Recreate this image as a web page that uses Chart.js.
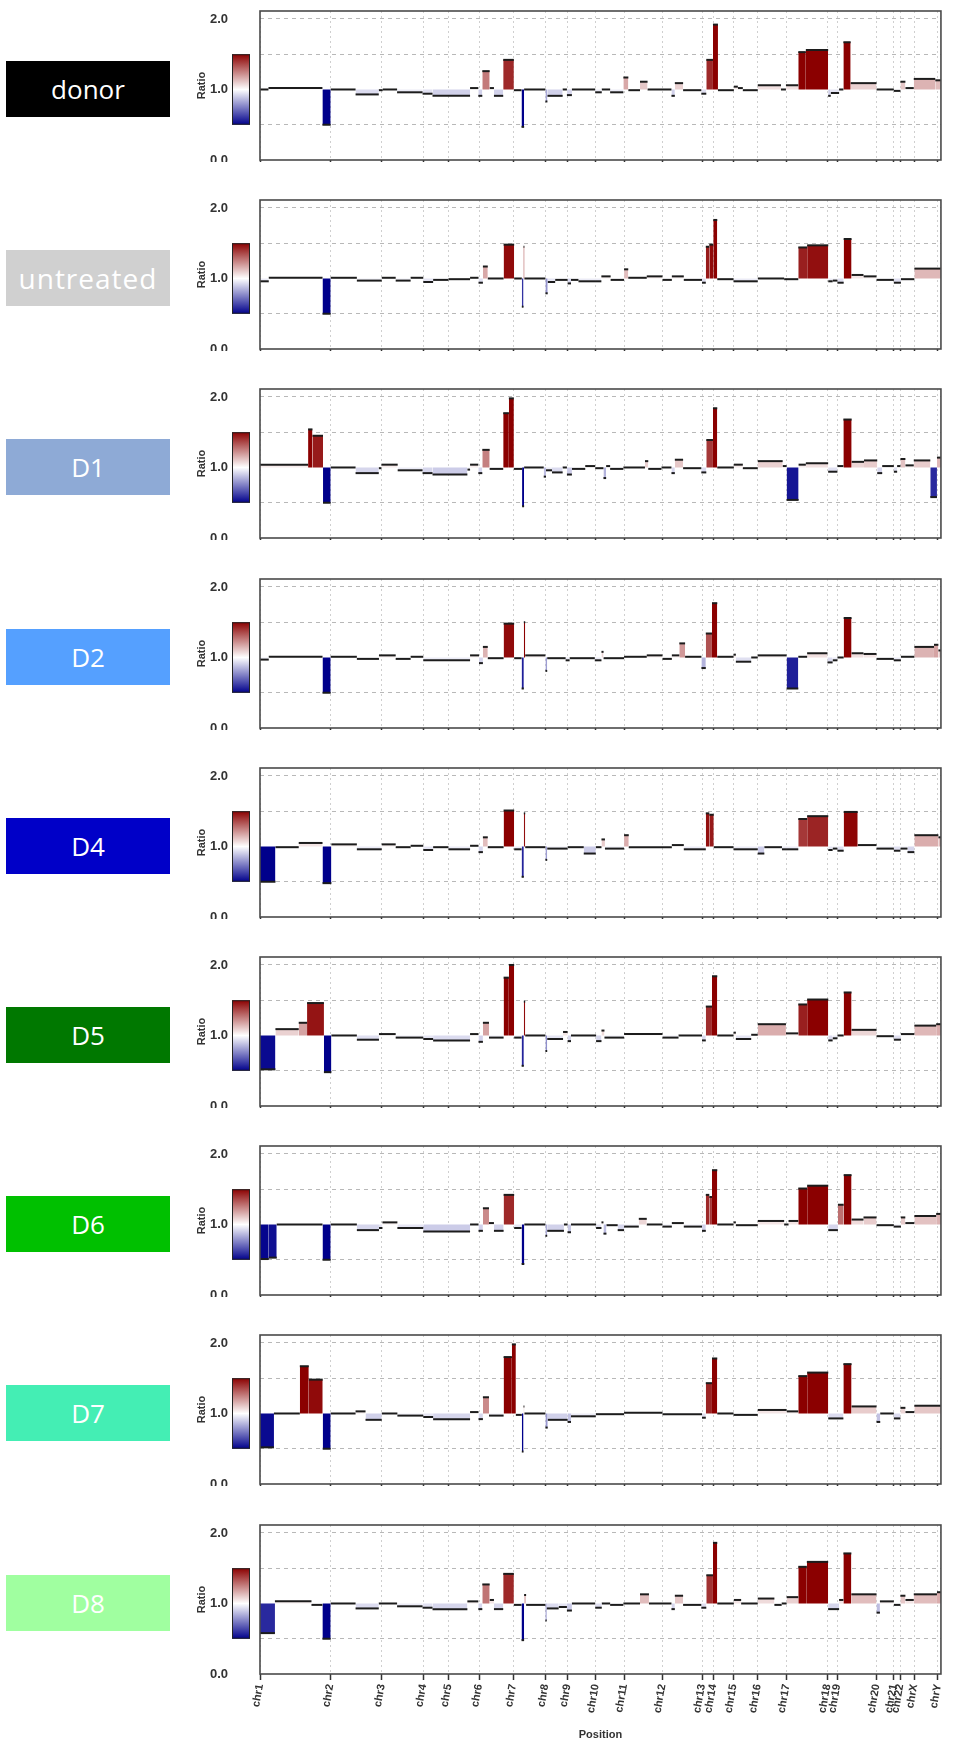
<!DOCTYPE html>
<html>
<head>
<meta charset="utf-8">
<script src="https://cdn.jsdelivr.net/npm/chart.js@4.4.1/dist/chart.umd.min.js"></script>
<style>
  html, body { margin: 0; padding: 0; background: #fff; }
  body { width: 954px; height: 1742px; position: relative; overflow: hidden; }
  .panel { position: absolute; left: 0; width: 954px; overflow: hidden; }
  .panel canvas { display: block; }
  .tag { position: absolute; left: 6px; width: 164px; height: 56px; color: #fff;
         font-family: "Open Sans", "Liberation Sans", sans-serif; font-size: 26px;
         display: flex; align-items: center; justify-content: center; z-index: 5; white-space: nowrap; }
</style>
</head>
<body>
<script>
// ---------------- DATA ----------------
const chromosomes = ['chr1','chr2','chr3','chr4','chr5','chr6','chr7','chr8','chr9','chr10','chr11','chr12',
  'chr13','chr14','chr15','chr16','chr17','chr18','chr19','chr20','chr21','chr22','chrX','chrY'];
// genome position (binned index) where each chromosome starts
const chromStarts = [0,70.7,122.3,164,189.3,220,254.3,286.7,309,337.3,365.7,404.3,
  444,455.3,475.7,500,529,570,580,619.3,636.7,643.3,657.3,681];
const genomeEnd = 684;
const ratioTicks = [0, 0.5, 1, 1.5, 2];
const ratioTickLabels = ['0.0', '', '1.0', '', '2.0'];
const sampleNames = ['donor','untreated','D1','D2','D4','D5','D6','D7','D8'];

// segments: [start, end, ratio]
const donor = [[0,8.5,1.00],[8.5,62.7,1.02],[62.7,71,0.50],[71,96,1.00],[96,119.3,0.93],[119.3,123.3,0.99],
 [123.3,137.7,1.00],[137.7,163.3,0.96],[163.3,173.3,0.94],[173.3,211,0.91],[211,219.3,1.02],[219.3,223.3,0.91],
 [223.3,230.7,1.26],[230.7,235,1.02],[235,244.3,0.91],[244.3,255,1.42],[255,262.7,0.99],[262.7,265.3,0.47],
 [265.3,286.7,1.00],[286.7,288.7,0.83],[288.7,304,0.91],[304,308.3,1.00],[308.3,313.3,0.92],[313.3,336.7,1.00],
 [336.7,343.3,0.96],[343.3,351.7,1.00],[351.7,365,0.96],[365,370,1.17],[370,381.7,0.99],[381.7,389.3,1.11],
 [389.3,413.3,1.00],[413.3,416.7,0.91],[416.7,425,1.09],[425,443.3,0.99],[443.3,448.3,0.94],[448.3,455,1.42],
 [455,460,1.92],[460,476,0.99],[476,480,1.04],[480,485,1.02],[485,500,0.99],[500,523.3,1.06],[523.3,528.3,1.00],
 [528.3,540.7,1.06],[540.7,548.3,1.53],[548.3,570.7,1.56],[570.7,573.3,0.91],[573.3,581.7,0.95],[581.7,586,1.00],
 [586,593.3,1.67],[593.3,619.3,1.09],[619.3,636.7,1.00],[636.7,643.3,0.98],[643.3,648.3,1.11],[648.3,656.7,1.02],
 [656.7,678.3,1.15],[678.3,684,1.13]];

const untreated = [[0,8.8,0.96],[8.8,62.8,1.01],[62.8,71,0.50],[71,97.3,1.01],[97.3,122.3,0.97],[122.3,136.3,1.01],
 [136.3,151.3,0.97],[151.3,164,1.01],[164,173.9,0.95],[173.9,189.3,0.98],[189.3,211,0.99],[211,219.5,1.01],
 [219.5,223.9,0.94],[223.9,228.8,1.17],[228.8,244.7,1.00],[244.7,255.3,1.48],[255.3,263,1.00],[263,264.7,0.60],
 [264.7,265.6,1.45],[265.6,286.7,1.00],[286.7,289,0.79],[289,296.5,0.95],[296.5,309,0.98],[309,312.4,0.93],
 [312.4,319.9,0.98],[319.9,342.9,0.96],[342.9,352.2,1.03],[352.2,365.7,0.98],[365.7,369.9,1.13],[369.9,388.5,1.01],
 [388.5,404.3,1.03],[404.3,413.7,0.98],[413.7,425.7,1.03],[425.7,444,0.98],[444,447.8,0.94],[447.8,451.3,1.45],
 [451.3,455.3,1.48],[455.3,459.3,1.83],[459.3,475.7,0.99],[475.7,500,0.96],[500,526.5,1.00],[526.5,540.7,0.99],
 [540.7,549.6,1.44],[549.6,570.8,1.47],[570.8,575.2,0.96],[575.2,580,0.97],[580,586.3,0.94],[586.3,594.2,1.56],
 [594.2,606.2,1.05],[606.2,619.3,1.03],[619.3,636.7,0.98],[636.7,643.8,0.94],[643.8,657.3,0.99],[657.3,684,1.14]];

const d1 = [[0,48.3,1.04],[48.3,52.7,1.54],[52.7,63.3,1.45],[63.3,71,0.50],[71,96,1.00],[96,119.3,0.92],
 [119.3,122,0.99],[122,138.3,1.04],[138.3,163.3,0.96],[163.3,173.3,0.92],[173.3,208.3,0.90],[208.3,211,0.97],
 [211,219.3,1.04],[219.3,223.3,0.92],[223.3,230.7,1.25],[230.7,244.3,0.98],[244.3,250,1.77],[250,255,1.98],
 [255,263.3,0.98],[263.3,265.3,0.45],[265.3,285,1.00],[285,287.3,0.87],[287.3,293.3,0.96],[293.3,304,0.93],
 [304,308.3,1.00],[308.3,313.3,0.90],[313.3,326.7,0.98],[326.7,336.7,1.02],[336.7,345,0.99],[345,347.7,0.85],
 [347.7,351.7,1.02],[351.7,365,0.98],[365,386.7,1.00],[386.7,390,1.09],[390,403.3,0.98],[403.3,413.3,1.00],
 [413.3,416.7,0.92],[416.7,425,1.11],[425,443.3,0.99],[443.3,448.3,0.93],[448.3,455,1.39],[455,459.3,1.84],
 [459.3,476,1.00],[476,485,1.04],[485,500,0.99],[500,525,1.09],[525,529,1.02],[529,541,0.54],[541,548.3,1.04],
 [548.3,570.7,1.06],[570.7,580,0.94],[580,586,1.02],[586,594.3,1.68],[594.3,606.7,1.08],[606.7,620,1.10],
 [620,625,0.92],[625,636.7,1.02],[636.7,640,0.94],[640,643.3,1.02],[643.3,648.3,1.12],[648.3,656.7,1.03],
 [656.7,673.3,1.10],[673.3,680,0.58],[680,684,1.14]];

const d2 = [[0,8.8,0.97],[8.8,62.8,1.01],[62.8,71,0.50],[71,97.3,1.01],[97.3,119.5,0.98],[119.5,136.3,1.03],
 [136.3,151.3,0.98],[151.3,164,1.01],[164,211,0.96],[211,220,1.03],[220,223.9,0.92],[223.9,228.8,1.15],
 [228.8,244.7,0.99],[244.7,255.3,1.48],[255.3,262.8,0.99],[262.8,265,0.56],[265,266.4,1.50],[266.4,286.7,1.03],
 [286.7,288.5,0.81],[288.5,307,0.99],[307,311,0.96],[311,336.3,0.99],[336.3,343,0.96],[343,345.1,1.08],
 [345.1,365.7,0.99],[365.7,388.5,1.01],[388.5,404.3,1.03],[404.3,413.7,0.98],[413.7,421.2,1.03],[421.2,427,1.20],
 [427,443.4,1.01],[443.4,447.8,0.85],[447.8,454,1.34],[454,459.3,1.77],[459.3,475.7,1.01],[475.7,478,1.04],
 [478,493.4,0.94],[493.4,500,1.00],[500,529,1.03],[529,540.7,0.56],[540.7,549.6,1.01],[549.6,570,1.06],
 [570,575.2,0.93],[575.2,580,0.96],[580,586.3,1.00],[586.3,594.2,1.56],[594.2,606.2,1.06],[606.2,619.3,1.05],
 [619.3,636.7,0.98],[636.7,643.8,0.96],[643.8,657.3,1.01],[657.3,677,1.15],[677,681.4,1.18],[681.4,684,1.10]];

const d4 = [[0,15.5,0.50],[15.5,38.9,0.99],[38.9,62.8,1.05],[62.8,71.7,0.48],[71.7,97.3,1.03],[97.3,122.3,0.96],
 [122.3,136.3,1.03],[136.3,151.3,0.99],[151.3,164,1.01],[164,173.9,0.95],[173.9,189.3,0.99],[189.3,211,0.96],
 [211,219.5,1.01],[219.5,223.9,0.92],[223.9,228.8,1.13],[228.8,244.7,0.99],[244.7,255.3,1.51],[255.3,262.8,0.96],
 [262.8,265,0.57],[265,266.4,1.47],[266.4,286.7,0.99],[286.7,288.5,0.81],[288.5,309,0.97],[309,325.2,0.99],
 [325.2,337.3,0.90],[337.3,343,0.99],[343,346.5,1.10],[346.5,365.7,0.97],[365.7,370.4,1.16],[370.4,413.7,0.99],
 [413.7,425.7,1.02],[425.7,447.8,0.96],[447.8,451.3,1.47],[451.3,455.8,1.45],[455.8,475.7,0.99],[475.7,500,0.96],
 [500,506.6,0.90],[506.6,524.3,0.99],[524.3,540.7,0.96],[540.7,549.6,1.39],[549.6,570.8,1.43],[570.8,575.2,0.95],
 [575.2,580,0.97],[580,586.3,0.94],[586.3,600.4,1.49],[600.4,619.3,1.02],[619.3,636.7,0.97],[636.7,643.3,0.94],
 [643.3,650.4,0.97],[650.4,657.3,0.92],[657.3,681.4,1.16],[681.4,684,1.13]];

const d5 = [[0,15.5,0.52],[15.5,38.9,1.09],[38.9,47.3,1.18],[47.3,64.2,1.46],[64.2,71.7,0.48],[71.7,97.3,1.00],
 [97.3,119.5,0.94],[119.5,136.3,1.02],[136.3,164,0.97],[164,173.9,0.95],[173.9,211,0.93],[211,219.5,1.02],
 [219.5,223.9,0.91],[223.9,230,1.18],[230,244.7,0.97],[244.7,250,1.82],[250,255.3,2.00],[255.3,262.8,0.97],
 [262.8,265,0.57],[265,266.4,1.48],[266.4,286.7,1.00],[286.7,288.5,0.78],[288.5,304.4,0.95],[304.4,309,1.05],
 [309,312.4,0.92],[312.4,337.6,1.00],[337.6,343,0.92],[343,346,1.07],[346,365.7,0.97],[365.7,404.3,1.02],
 [404.3,420.4,0.97],[420.4,444,1.00],[444,447.8,0.93],[447.8,454,1.41],[454,459.3,1.84],[459.3,475.7,1.00],
 [475.7,478,1.04],[478,493.4,0.95],[493.4,500,1.01],[500,528.3,1.16],[528.3,540.7,1.03],[540.7,549.6,1.44],
 [549.6,570.8,1.51],[570.8,575.2,0.93],[575.2,580,0.96],[580,586.3,1.00],[586.3,594.2,1.61],[594.2,619.3,1.08],
 [619.3,636.7,0.99],[636.7,643.8,0.94],[643.8,657.3,1.02],[657.3,679.2,1.14],[679.2,684,1.16]];

const d6 = [[0,8.8,0.51],[8.8,16.8,0.53],[16.8,62.8,1.00],[62.8,71,0.50],[71,97.3,1.00],[97.3,119.5,0.92],
 [119.5,123,0.95],[123,138,1.03],[138,164,0.95],[164,211,0.90],[211,219.5,1.00],[219.5,223.9,0.91],
 [223.9,230,1.23],[230,235,1.02],[235,244.7,0.91],[244.7,255.3,1.42],[255.3,262.8,0.95],[262.8,265.5,0.44],
 [265.5,286.7,1.00],[286.7,288.5,0.84],[288.5,305.3,0.91],[305.3,309,1.00],[309,312.4,0.89],[312.4,337.6,1.00],
 [337.6,343,0.95],[343,345,1.03],[345,348,0.87],[348,359.3,0.99],[359.3,365.7,0.92],[365.7,380.5,0.97],
 [380.5,388.5,1.08],[388.5,404.3,1.00],[404.3,413.7,0.97],[413.7,425.7,1.02],[425.7,444,0.97],[444,447.8,0.91],
 [447.8,451.3,1.42],[451.3,454,1.39],[454,459.3,1.77],[459.3,475.7,1.00],[475.7,478,1.03],[478,500,0.99],
 [500,526.5,1.05],[526.5,530.9,1.00],[530.9,540.7,1.05],[540.7,549.6,1.51],[549.6,570.8,1.55],[570.8,580.5,0.92],
 [580.5,586.3,1.28],[586.3,594.2,1.70],[594.2,606.2,1.07],[606.2,619.3,1.10],[619.3,636.7,0.99],[636.7,643.8,0.97],
 [643.8,648.2,1.10],[648.2,657.3,1.02],[657.3,679.2,1.12],[679.2,684,1.15]];

const d7 = [[0,14,0.52],[14,40,1.00],[40,49,1.67],[49,63,1.48],[63,71,0.50],[71,96,1.00],[96,106,1.03],
 [106,122.3,0.91],[122.3,138,1.00],[138,164,0.97],[164,173.9,0.95],[173.9,211,0.92],[211,219.5,1.02],
 [219.5,223.9,0.92],[223.9,230,1.23],[230,244.7,0.97],[244.7,253,1.80],[253,257,1.98],[257,263,0.98],
 [263,264.7,0.46],[264.7,265.6,1.10],[265.6,286.7,1.00],[286.7,289,0.80],[289,309,0.91],[309,312.4,0.88],
 [312.4,337.3,0.96],[337.3,365.7,0.99],[365.7,404.3,1.01],[404.3,444,0.99],[444,447.8,0.94],[447.8,454,1.43],
 [454,459.3,1.78],[459.3,475.7,1.00],[475.7,500,0.98],[500,529,1.05],[529,540.7,1.03],[540.7,549.6,1.53],
 [549.6,570.8,1.58],[570.8,586,0.93],[586,594.2,1.70],[594.2,619.3,1.10],[619.3,623,0.88],[623,636.7,1.00],
 [636.7,643.3,0.93],[643.3,648.3,1.08],[648.3,657.3,1.02],[657.3,684,1.11]];

const d8 = [[0,15,0.58],[15,51.7,1.03],[51.7,62.7,0.98],[62.7,71,0.50],[71,96,1.00],[96,119.3,0.93],
 [119.3,137.7,1.00],[137.7,163.3,0.96],[163.3,173.3,0.94],[173.3,208.3,0.92],[208.3,219.3,1.03],[219.3,223.3,0.92],
 [223.3,230.7,1.27],[230.7,235,1.05],[235,244.3,0.92],[244.3,255,1.42],[255,262.7,0.98],[262.7,265.3,0.48],
 [265.3,267.3,1.12],[267.3,286.7,0.98],[286.7,288,0.76],[288,300,0.93],[300,308.3,0.95],[308.3,313.3,0.90],
 [313.3,336.7,1.00],[336.7,343.3,0.94],[343.3,351.7,1.00],[351.7,365,0.98],[365,381.7,1.00],[381.7,390.7,1.13],
 [390.7,413.3,1.00],[413.3,416.7,0.92],[416.7,425,1.11],[425,443.3,0.98],[443.3,448.3,0.94],[448.3,455,1.40],
 [455,459.3,1.86],[459.3,476,1.00],[476,483.3,1.05],[483.3,500,1.00],[500,516.7,1.07],[516.7,524,0.98],
 [524,529,1.00],[529,540.7,1.09],[540.7,549.3,1.52],[549.3,570.7,1.59],[570.7,581.7,0.92],[581.7,586,1.05],
 [586,594,1.71],[594,619.3,1.13],[619.3,622.7,0.87],[622.7,636.7,1.03],[636.7,643.3,0.98],[643.3,648.3,1.11],
 [648.3,656.7,1.05],[656.7,680,1.13],[680,684,1.16]];

const sampleSegments = [donor, untreated, d1, d2, d4, d5, d6, d7, d8];
const tagColors = ['#000000','#d0d0d0','#8eaad6','#55a0ff','#0000c8','#007800','#00c000','#44eeb4','#a0ffa0'];
const tagFontSize = [26, 28, 26, 26, 26, 26, 26, 26, 26];
const tagSpacing = [0, 1, 0, 0, 0, 0, 0, 0, 0];

// ---------------- RENDER ----------------
Chart.defaults.font.family = '"Liberation Sans", Arial, sans-serif';
Chart.defaults.animation = false;

function ratioColor(v) {
  const t = Math.max(-1, Math.min(1, (v - 1) / 0.5));
  let r, g, b;
  if (t >= 0) { r = 255 + (139 - 255) * t; g = 255 * (1 - t); b = 255 * (1 - t); }
  else { const a = -t; r = 255 * (1 - a); g = 255 * (1 - a); b = 255 + (139 - 255) * a; }
  return 'rgb(' + Math.round(r) + ',' + Math.round(g) + ',' + Math.round(b) + ')';
}

const decor = {
  id: 'decor',
  afterDraw(chart) {
    const { ctx, chartArea: a, scales: { y } } = chart;
    ctx.save();
    const top = y.getPixelForValue(1.5), bot = y.getPixelForValue(0.5);
    const x0 = a.left - 28, w = 18;
    const g = ctx.createLinearGradient(0, top, 0, bot);
    g.addColorStop(0, '#8b0000');
    g.addColorStop(0.5, '#ffffff');
    g.addColorStop(1, '#00008b');
    ctx.fillStyle = g;
    ctx.fillRect(x0, top, w, bot - top);
    ctx.strokeStyle = '#222';
    ctx.lineWidth = 1;
    ctx.strokeRect(x0 + 0.5, top + 0.5, w - 1, bot - top - 1);
    ctx.strokeStyle = '#4a4a4a';
    ctx.lineWidth = 1.6;
    ctx.strokeRect(a.left, a.top, a.right - a.left, a.bottom - a.top);
    ctx.restore();
  }
};

const pitch = 189.2;
const canvasH = 228;

sampleSegments.forEach((segs, i) => {
  const topPx = Math.round(i * pitch);
  const wrap = document.createElement('div');
  wrap.className = 'panel';
  wrap.style.top = topPx + 'px';
  wrap.style.height = (i < sampleSegments.length - 1 ? 162 : canvasH) + 'px';
  const cv = document.createElement('canvas');
  cv.width = 954; cv.height = canvasH;
  wrap.appendChild(cv);
  document.body.appendChild(wrap);

  const tag = document.createElement('div');
  tag.className = 'tag';
  tag.style.top = (topPx + 61) + 'px';
  tag.style.background = tagColors[i];
  tag.style.fontSize = tagFontSize[i] + 'px';
  tag.style.letterSpacing = tagSpacing[i] + 'px';
  tag.textContent = sampleNames[i];
  document.body.appendChild(tag);

  const datasets = segs.map(([s, e, v]) => ({
    data: [{ x: s, y: v }, { x: e, y: v }],
    borderColor: '#1c1c1c',
    borderWidth: 2,
    borderCapStyle: 'butt',
    backgroundColor: ratioColor(v),
    fill: { value: 1 },
    pointRadius: 0,
    pointHoverRadius: 0,
    tension: 0
  }));

  new Chart(cv, {
    type: 'line',
    data: { datasets },
    plugins: [decor],
    options: {
      responsive: false,
      animation: false,
      events: [],
      layout: { padding: { left: 195, right: 10, top: 11, bottom: 0 } },
      plugins: { legend: { display: false }, tooltip: { enabled: false } },
      scales: {
        x: {
          type: 'linear',
          min: 0, max: genomeEnd,
          afterBuildTicks: s => { s.ticks = chromStarts.map(v => ({ value: v })); },
          afterFit: s => { s.height = 68; },
          ticks: {
            autoSkip: false, minRotation: 80, maxRotation: 80, padding: 3,
            color: '#333', font: { size: 11, weight: 'bold' },
            callback: (v, idx) => chromosomes[idx]
          },
          grid: { color: '#cfcfcf', lineWidth: 1, tickColor: '#333', tickLength: 6, tickWidth: 1.5 },
          border: { display: false, dash: [2, 3] },
          title: { display: true, text: 'Position', color: '#333', font: { size: 11, weight: 'bold' }, padding: { top: 0, bottom: 0 } }
        },
        y: {
          type: 'linear',
          min: 0, max: 2.113,
          afterBuildTicks: s => { s.ticks = ratioTicks.map(v => ({ value: v })); },
          afterFit: s => { s.width = 65; },
          ticks: {
            padding: 2, color: '#333', font: { size: 13, weight: 'bold' },
            callback: (v, idx) => ratioTickLabels[idx]
          },
          grid: {
            drawTicks: true, tickLength: 30, tickColor: 'rgba(0,0,0,0)',
            color: c => (c.tick && (c.tick.value === 0.5 || c.tick.value === 1.5 || c.tick.value === 2)) ? '#b8b8b8' : 'rgba(0,0,0,0)',
            lineWidth: 1
          },
          border: { display: false, dash: [4, 4] },
          title: { display: true, text: 'Ratio', color: '#333', font: { size: 11, weight: 'bold' }, padding: { top: 0, bottom: 0 } }
        }
      }
    }
  });
});
</script>
</body>
</html>
